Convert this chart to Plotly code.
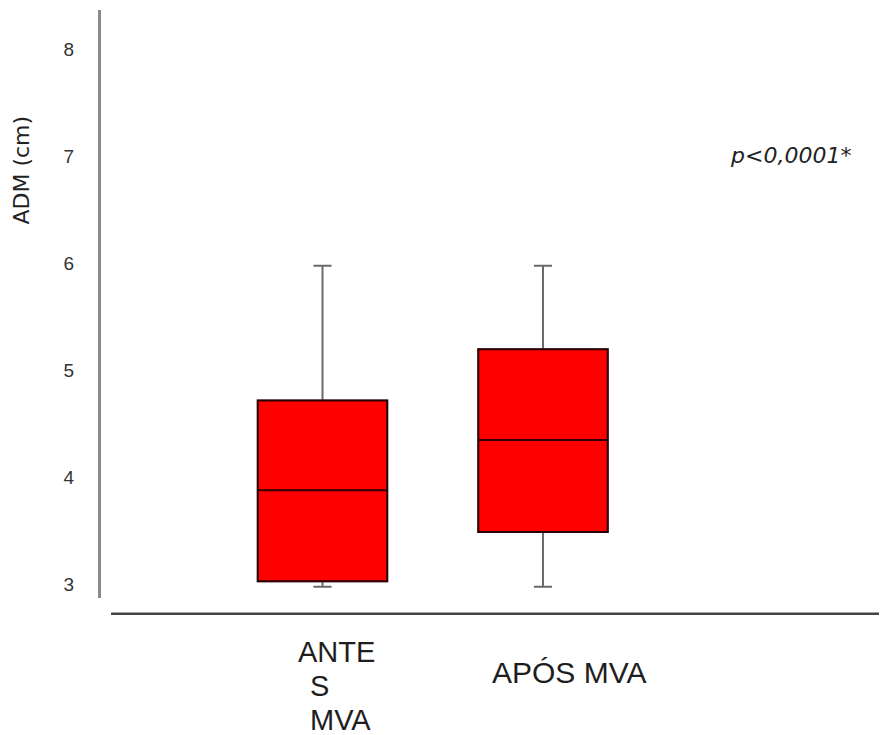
import plotly.graph_objects as go

# ---- data ----
groups = ["ANTES MVA", "APÓS MVA"]
mins = [3.0, 3.0]
q1 = [3.05, 3.51]
medians = [3.90, 4.37]
q3 = [4.74, 5.22]
maxs = [6.0, 6.0]
y_ticks = [3, 4, 5, 6, 7, 8]
y_title = "ADM (cm)"
p_text = "p<0,0001*"

fig = go.Figure()

# whiskers (gray) + box
fig.add_trace(go.Box(
    x=groups, q1=q1, median=medians, q3=q3,
    lowerfence=mins, upperfence=maxs,
    width=0.587, whiskerwidth=0.14,
    fillcolor="#ff0000",
    line=dict(color="#6a6a6a", width=2),
    boxpoints=False, showlegend=False, hoverinfo="skip",
))
# box outline + median (dark) on top
fig.add_trace(go.Box(
    x=groups, q1=q1, median=medians, q3=q3,
    lowerfence=q1, upperfence=q3,
    width=0.587, whiskerwidth=0,
    fillcolor="#ff0000",
    line=dict(color="#2a0000", width=2),
    boxpoints=False, showlegend=False, hoverinfo="skip",
))

label_font = dict(family="Liberation Sans, Arial, sans-serif", size=29, color="#1e1e1e")
annotations = [
    dict(x=groups[0], xref="x", y=0, yref="paper", text="ANTE", showarrow=False,
         xanchor="left", yanchor="middle", xshift=-27, yshift=-54, font=label_font),
    dict(x=groups[0], xref="x", y=0, yref="paper", text="S", showarrow=False,
         xanchor="left", yanchor="middle", xshift=-15, yshift=-88, font=label_font),
    dict(x=groups[0], xref="x", y=0, yref="paper", text="MVA", showarrow=False,
         xanchor="left", yanchor="middle", xshift=-15, yshift=-122, font=label_font),
    dict(x=groups[1], xref="x", y=0, yref="paper", text="APÓS MVA", showarrow=False,
         xanchor="left", yanchor="middle", xshift=-53, yshift=-74,
         font=dict(family="Liberation Sans, Arial, sans-serif", size=30, color="#1e1e1e")),
    dict(x=0.800, xref="paper", y=0.7526, yref="paper", text="<i>" + p_text + "</i>",
         showarrow=False, xanchor="left", yanchor="middle",
         font=dict(family="DejaVu Sans, sans-serif", size=22, color="#222")),
    dict(x=-0.1020, xref="paper", y=0.727, yref="paper", text=y_title, textangle=-90,
         showarrow=False, xanchor="center", yanchor="middle",
         font=dict(family="DejaVu Sans, sans-serif", size=22, color="#222")),
]

# the page has an 8px body margin, so the figure is 8px smaller and shifted
fig.update_layout(
    width=879, height=727,
    margin=dict(l=93, r=2, t=2, b=137),
    paper_bgcolor="white", plot_bgcolor="white",
    boxmode="overlay",
    annotations=annotations,
    shapes=[dict(type="line", xref="paper", yref="paper",
                 x0=0.0128, x1=1.0, y0=-0.0267, y1=-0.0267,
                 line=dict(color="#444444", width=2.5))],
    xaxis=dict(type="category", range=[-1.0045, 2.551], showticklabels=False,
               showline=False, showgrid=False, zeroline=False, ticks=""),
    yaxis=dict(range=[2.894, 8.39], tickvals=y_ticks, ticks="",
               ticklabelstandoff=20, ticklabelshift=-2,
               tickfont=dict(family="Liberation Sans Narrow, Arial Narrow, Liberation Sans, sans-serif",
                             size=19, color="#333"),
               showline=True, linecolor="#8a8a8a", linewidth=3,
               showgrid=False, zeroline=False),
)

fig.write_html("out.html")
